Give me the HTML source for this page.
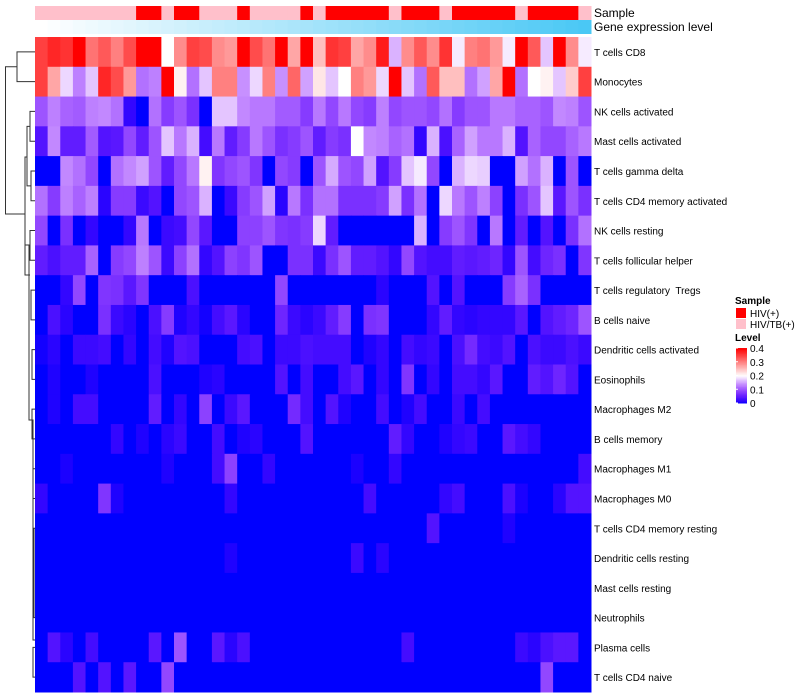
<!DOCTYPE html>
<html><head><meta charset="utf-8"><style>
body{margin:0;background:#fff;}
svg{display:block;font-family:"Liberation Sans",sans-serif;}
</style></head><body>
<svg id="chart" width="800" height="700"></svg>
<script>
const rowNames=["T cells CD8","Monocytes","NK cells activated","Mast cells activated","T cells gamma delta","T cells CD4 memory activated","NK cells resting","T cells follicular helper","T cells regulatory  Tregs","B cells naive","Dendritic cells activated","Eosinophils","Macrophages M2","B cells memory","Macrophages M1","Macrophages M0","T cells CD4 memory resting","Dendritic cells resting","Mast cells resting","Neutrophils","Plasma cells","T cells CD4 naive"];
const sampleGroups="TTTTTTTTHHTHHTTTHTTTTHTHHHHHTHHHTHHHHHTHHHHT";
const levelTicks=[0,0.1,0.2,0.3,0.4];
const rowCD8=[.35,.37,.36,.4,.31,.33,.3,.34,.4,.4,.2,.29,.35,.34,.29,.28,.4,.34,.31,.4,.27,.4,.25,.36,.35,.27,.29,.38,.16,.29,.33,.29,.36,.19,.3,.31,.28,.19,.4,.33,.17,.4,.29,.19];
const rowMono=[.35,.27,.18,.13,.17,.37,.34,.28,.12,.13,.4,.21,.12,.17,.3,.3,.14,.18,.3,.14,.32,.15,.22,.17,.2,.3,.28,.18,.4,.17,.12,.33,.25,.25,.12,.15,.27,.4,.12,.2,.21,.17,.24,.35];
const rowNKact=[.1,.13,.11,.105,.13,.135,.12,.02,0,.12,.08,.1,.07,0,.17,.17,.135,.125,.125,.105,.105,.08,.125,.09,.125,.09,.08,.13,.09,.1,.1,.09,.12,.08,.1,.1,.125,.125,.11,.11,.1,.135,.13,.1];
const rowMastAct=[.04,.135,.05,.05,.105,.04,.045,.09,.05,.1,.17,.125,.16,.03,.125,.05,.08,.125,.1,.07,.08,.1,.05,.08,.07,.2,.135,.13,.11,.12,.02,.16,.035,.11,.15,.125,.125,.16,.04,.11,.09,.09,.11,.125];
const rowGamma=[0,0,.135,.12,.09,0,.12,.135,.15,.1,.05,.09,.125,.21,.075,.09,.1,.075,0,.09,.08,0,.1,.155,.1,.09,.15,.04,.08,.17,.19,.09,0,.16,.18,.175,0,0,.15,.12,.16,0,.1,0];
const rowCD4MemAct=[.12,.08,.13,.11,.13,.015,.08,.08,.025,.04,0,.09,.1,.16,0,.025,.08,.1,.15,.015,.125,.07,.12,.12,.07,.07,.07,.08,.15,.07,.12,0,.18,.125,.1,.13,.085,0,.07,.1,.17,.045,.1,.07];
const rowNKrest=[.09,0,.07,0,.02,0,0,.02,.125,0,.025,.03,.09,.045,0,0,.085,.085,.1,.075,.07,.08,.18,.05,0,0,0,0,0,0,.16,0,.08,.1,.075,0,.125,0,.05,0,.04,0,.07,.12];
const rowTfh=[.05,.035,.05,.05,.11,0,.08,.09,.13,.1,.025,.085,.12,.02,.04,.085,.075,.1,0,0,.07,.07,.025,.07,.1,.05,.05,.04,.02,.09,.04,.03,.03,.05,.045,.05,.06,.02,.1,.03,.06,.07,0,.075];
const rowTreg=[0,0,.02,.09,0,.075,.07,.045,.075,0,0,0,.035,0,0,0,0,0,0,.09,0,0,0,0,0,0,0,.015,0,0,0,.04,0,.04,0,0,0,.08,.11,.07,0,0,0,0];
const rowBnaive=[0,.035,.015,0,0,.07,.025,.015,0,.035,.08,.01,.02,.005,.03,.045,.015,0,0,.06,.025,.015,.025,.05,.08,0,.07,.075,0,0,0,.02,.05,.02,.015,.02,.02,.02,.045,0,.04,.05,.06,.1];
const rowDCact=[.005,.015,0,.025,.025,.03,0,.02,0,.03,.01,.04,.035,0,0,0,.03,.035,0,.025,.025,.035,.03,.03,.03,0,.01,.02,0,.03,.02,.025,0,.035,.065,.03,.025,.04,0,.035,.025,.025,.035,.025];
const rowEos=[0,.01,0,0,.01,0,0,0,0,.035,0,0,0,.01,.015,0,0,0,0,.04,0,.03,0,0,.03,.045,0,.02,0,.075,0,.02,0,.03,.03,.02,.045,0,0,.05,.04,.06,.04,0];
const rowM2=[0,.01,0,.03,.03,0,0,0,0,.05,0,.02,0,.085,0,.025,.045,0,0,0,.065,.03,0,.04,.01,0,0,.03,0,.01,.03,0,0,.025,0,.03,0,0,0,0,0,0,0,0];
const rowBmem=[0,0,0,0,0,0,.02,0,.01,0,.015,.025,0,0,.03,0,.01,.015,0,0,0,.04,0,0,0,0,0,0,.05,.02,0,0,.01,.02,.025,0,0,.045,.03,.02,0,0,0,0];
const rowM1=[0,0,.008,0,0,0,0,0,0,0,.01,0,0,0,.03,.085,0,0,.02,0,0,0,0,0,0,.008,0,0,.02,0,0,0,0,0,0,0,0,0,0,0,0,0,0,.03];
const rowM0=[.02,0,0,0,0,.075,.01,0,0,0,0,0,0,0,0,.02,0,0,0,0,0,0,0,0,0,0,.03,0,0,0,0,0,.02,.03,0,0,0,.035,.008,0,0,.015,.04,.04];
const rowCD4MemRest=[0,0,0,0,0,0,0,0,0,0,0,0,0,0,0,0,0,0,0,0,0,0,0,0,0,0,0,0,0,0,0,.04,0,0,0,0,0,.01,0,0,0,0,0,0];
const rowDCrest=[0,0,0,0,0,0,0,0,0,0,0,0,0,0,0,.01,0,0,0,0,0,0,0,0,0,.025,0,.015,0,0,0,0,0,0,0,0,0,0,0,0,0,0,0,0];
const rowMastRest=[0,0,0,0,0,0,0,0,0,0,0,0,0,0,0,0,0,0,0,0,0,0,0,0,0,0,0,0,0,0,0,0,0,0,0,0,0,0,0,0,0,0,0,0];
const rowNeut=[0,0,0,0,0,0,0,0,0,0,0,0,0,0,0,0,0,0,0,0,0,0,0,0,0,0,0,0,0,0,0,0,0,0,0,0,0,0,0,0,0,0,0,0];
const rowPlasma=[0,.04,.015,0,.03,0,0,0,0,.045,0,.1,0,0,.045,.015,.035,0,0,0,0,0,0,0,0,0,0,0,0,.03,0,0,0,0,0,0,0,0,.025,.015,.035,.045,.045,0];
const rowCD4naive=[0,0,0,.04,0,.04,0,.045,0,0,.09,0,0,0,0,0,0,0,0,0,0,0,0,0,0,0,0,0,0,0,0,0,0,0,0,0,0,0,0,0,.09,0,0,0];
const matrix=[rowCD8,rowMono,rowNKact,rowMastAct,rowGamma,rowCD4MemAct,rowNKrest,rowTfh,rowTreg,rowBnaive,rowDCact,rowEos,rowM2,rowBmem,rowM1,rowM0,rowCD4MemRest,rowDCrest,rowMastRest,rowNeut,rowPlasma,rowCD4naive];

const NS="http://www.w3.org/2000/svg";
const svg=document.getElementById('chart');
const X0=35,X1=591,Y0=37,Y1=692;
const nCol=rowCD8.length,nRow=matrix.length;
const cw=(X1-X0)/nCol,rh=(Y1-Y0)/nRow;
const xScale=i=>X0+i*cw;
const yScale=j=>Y0+j*rh;
function mk(tag,attrs,parent){const e=document.createElementNS(NS,tag);for(const k in attrs)e.setAttribute(k,attrs[k]);(parent||svg).appendChild(e);return e;}
function color(v){
  const t=Math.max(0,Math.min(0.4,v));
  let r,g,b;
  if(t<0.2){const s=t/0.2;r=255*Math.pow(s,0.7);g=255*Math.pow(s,1.6);b=255;}
  else{const s=(t-0.2)/0.2;r=255;g=255*(1-s);b=255*(1-s);}
  return `rgb(${Math.round(r)},${Math.round(g)},${Math.round(b)})`;
}
const gAnn=mk('g',{});


for(let i=0;i<nCol;i++){
  const s=mk('rect',{x:xScale(i),y:6,width:cw+0.5,height:14,fill:sampleGroups[i]==='H'?'#FF0000':'#FFC0CB'},gAnn);
  
  
  const f=i/(nCol-1);
  const gcol=`rgb(${Math.round(255-(255-74)*f)},${Math.round(255-(255-200)*f)},${Math.round(255-(255-245)*f)})`;
  const gcell=mk('rect',{x:xScale(i),y:20,width:cw+0.5,height:14,fill:gcol},gAnn);
  
  
}
let t1=mk('text',{x:594,y:17,'font-size':12},svg);t1.textContent='Sample';

let t2=mk('text',{x:594,y:31,'font-size':12},svg);t2.textContent='Gene expression level';

const gCells=mk('g',{});


matrix.forEach((row,j)=>{
  row.forEach((v,i)=>{
    const r=mk('rect',{x:xScale(i),y:yScale(j),width:cw+0.5,height:rh+0.5,fill:color(v)},gCells);
    
    
  });
  const lb=mk('text',{x:594,y:yScale(j)+rh/2+4,'font-size':10,style:'white-space:pre'},svg);
  lb.textContent=rowNames[j];
  
  
});
const gD=mk('g',{stroke:'#333','stroke-width':1,fill:'none'});


const cy=j=>yScale(j)+rh/2;
const segs=[
 `M35 ${cy(0)} H17 V${cy(1)} H35`,
 `M17 ${(cy(0)+cy(1))/2} H5.5 V214 H25`,
 `M35 ${cy(2)} H30 V${cy(3)} H35`,
 `M35 ${cy(4)} H31 V${cy(5)} H35`,
 `M30 ${(cy(2)+cy(3))/2} H27 V${(cy(4)+cy(5))/2} H31`,
 `M35 ${cy(6)} H30 V${cy(7)} H35`,
 `M27 157 H25 V275 H30`,
 `M25 245 H29 V420 H32`,
 `M35 ${cy(8)} H31 V${cy(9)} H35`,
 `M35 ${cy(10)} H32 V${cy(11)} H35`,
 `M35 ${cy(12)} H32 V${cy(13)} H35`,
 `M32 420 H33 V640 H35`,
 `M35 ${cy(14)} H33 V${cy(15)} H35`,
 `M35 ${cy(16)} H34 V${cy(19)} H35`,
 `M35 ${cy(20)} H33 V${cy(21)} H35`
];
segs.forEach(d=>{const p=mk('path',{d},gD);});
const gL=mk('g',{});


let ls=mk('text',{x:735,y:304,'font-size':10,'font-weight':'bold'},gL);ls.textContent='Sample';

[['HIV(+)','#FF0000',308],['HIV/TB(+)','#FFC0CB',319]].forEach(([lab,c,y])=>{
  const r=mk('rect',{x:736,y:y,width:10,height:10,fill:c},gL);
  
  const t=mk('text',{x:750,y:y+9,'font-size':10},gL);t.textContent=lab;
  
});
let ll=mk('text',{x:735,y:341,'font-size':10,'font-weight':'bold'},gL);ll.textContent='Level';

const barTop=348,barBot=403;
const ly=v=>barBot-(v/0.4)*(barBot-barTop);
for(let k=0;k<40;k++){
  const v0=0.4*k/40;
  const r=mk('rect',{x:736,y:ly(v0+0.01),width:11,height:(barBot-barTop)/40+0.5,fill:color(v0+0.005)},gL);
  
}
levelTicks.forEach(v=>{
  const t=mk('text',{x:750,y:ly(v)+4,'font-size':10},gL);t.textContent=String(v);
  
  const tk=mk('line',{x1:736,x2:738,y1:ly(v),y2:ly(v),stroke:'#fff'},gL);
  
});
</script>
</body></html>
